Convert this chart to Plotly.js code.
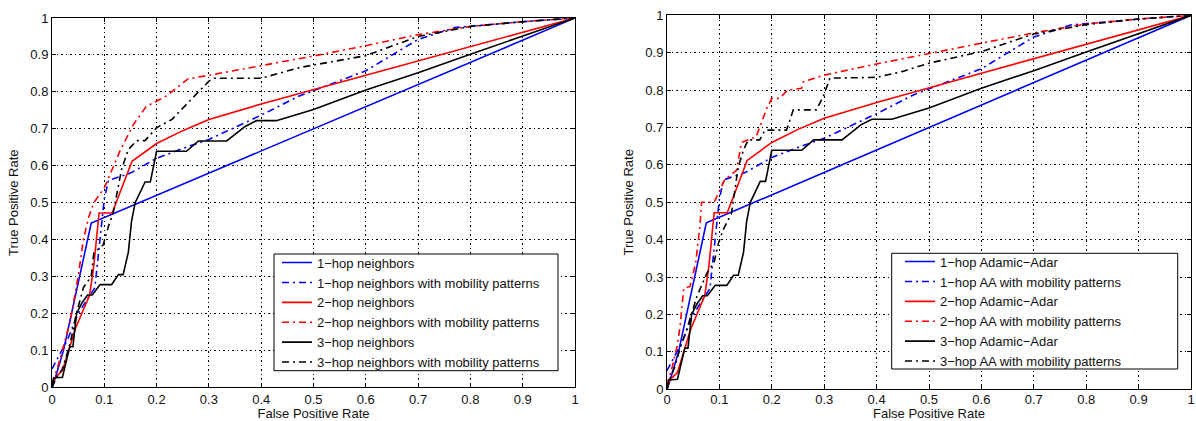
<!DOCTYPE html>
<html>
<head>
<meta charset="utf-8">
<script src="https://cdn.plot.ly/plotly-3.0.1.min.js"></script>
<style>
  html, body { margin: 0; padding: 0; background: #fff; }
  #roc { width: 1196px; height: 421px; }
</style>
</head>
<body>
<div id="roc"></div>
<script>
// ROC curves: false positive rate (x) vs true positive rate (y)

// 1-hop, solid (same in both panels)
const hop1_fpr = [0, 0.005, 0.022, 0.075, 1];
const hop1_tpr = [0, 0.02, 0.10, 0.445, 1];

// 1-hop with mobility patterns (same in both panels)
const hop1Mob_fpr = [0, 0.015, 0.03, 0.05, 0.07, 0.082, 0.088, 0.095, 0.1, 0.108, 0.15, 0.2, 0.26, 0.3, 0.4, 0.47, 0.6, 0.7, 0.77, 0.9, 1];
const hop1Mob_tpr = [0.05, 0.09, 0.13, 0.2, 0.245, 0.27, 0.35, 0.45, 0.51, 0.56, 0.58, 0.62, 0.652, 0.671, 0.737, 0.787, 0.857, 0.942, 0.974, 0.99, 1];

// 2-hop, solid (same in both panels)
const hop2_fpr = [0, 0.005, 0.02, 0.03, 0.045, 0.06, 0.072, 0.08, 0.09, 0.115, 0.153, 0.2, 0.25, 0.3, 0.4, 0.6, 0.8, 1];
const hop2_tpr = [0, 0.025, 0.045, 0.09, 0.16, 0.21, 0.25, 0.33, 0.472, 0.472, 0.612, 0.66, 0.695, 0.725, 0.767, 0.845, 0.922, 1];

// 3-hop, solid (same in both panels)
const hop3_fpr = [0, 0.003, 0.02, 0.034, 0.04, 0.047, 0.057, 0.068, 0.077, 0.092, 0.114, 0.127, 0.136, 0.146, 0.152, 0.159, 0.178, 0.188, 0.2, 0.257, 0.28, 0.334, 0.37, 0.391, 0.429, 0.5, 0.6, 0.7, 0.8, 1];
const hop3_tpr = [0, 0.025, 0.027, 0.11, 0.11, 0.2, 0.228, 0.25, 0.25, 0.278, 0.278, 0.305, 0.305, 0.366, 0.449, 0.5, 0.556, 0.556, 0.639, 0.639, 0.667, 0.667, 0.707, 0.722, 0.722, 0.752, 0.805, 0.852, 0.902, 1];

// Left panel: neighbor counts with mobility patterns
const hop2MobN_fpr = [0, 0.01, 0.02, 0.035, 0.05, 0.06, 0.07, 0.08, 0.1, 0.13, 0.155, 0.18, 0.22, 0.26, 0.3, 0.4, 0.5, 0.6, 0.7, 0.8, 0.9, 1];
const hop2MobN_tpr = [0.01, 0.05, 0.1, 0.18, 0.3, 0.4, 0.46, 0.5, 0.54, 0.64, 0.71, 0.76, 0.79, 0.835, 0.845, 0.87, 0.897, 0.925, 0.955, 0.977, 0.99, 1];

const hop3MobN_fpr = [0, 0.01, 0.02, 0.035, 0.045, 0.06, 0.075, 0.08, 0.098, 0.108, 0.117, 0.133, 0.146, 0.162, 0.178, 0.2, 0.229, 0.261, 0.3, 0.31, 0.4, 0.474, 0.6, 0.7, 0.8, 0.9, 1];
const hop3MobN_tpr = [0, 0.03, 0.05, 0.12, 0.19, 0.27, 0.3, 0.364, 0.386, 0.436, 0.472, 0.59, 0.644, 0.668, 0.668, 0.703, 0.725, 0.771, 0.829, 0.837, 0.837, 0.866, 0.898, 0.95, 0.977, 0.99, 1];

// Right panel: Adamic-Adar with mobility patterns
const hop2MobAA_fpr = [0, 0.01, 0.02, 0.025, 0.032, 0.044, 0.055, 0.063, 0.066, 0.09, 0.098, 0.11, 0.133, 0.142, 0.17, 0.19, 0.2, 0.215, 0.23, 0.257, 0.26, 0.3, 0.4, 0.5, 0.6, 0.7, 0.8, 0.9, 1];
const hop2MobAA_tpr = [0.01, 0.06, 0.12, 0.17, 0.27, 0.275, 0.34, 0.44, 0.5, 0.5, 0.524, 0.56, 0.586, 0.66, 0.675, 0.75, 0.778, 0.778, 0.8, 0.805, 0.822, 0.84, 0.87, 0.897, 0.925, 0.953, 0.977, 0.99, 1];

const hop3MobAA_fpr = [0, 0.006, 0.015, 0.025, 0.04, 0.057, 0.076, 0.09, 0.098, 0.107, 0.123, 0.136, 0.146, 0.155, 0.177, 0.187, 0.228, 0.241, 0.285, 0.298, 0.311, 0.4, 0.45, 0.5, 0.6, 0.7, 0.8, 0.9, 1];
const hop3MobAA_tpr = [0, 0.03, 0.06, 0.11, 0.17, 0.248, 0.31, 0.34, 0.39, 0.426, 0.47, 0.595, 0.64, 0.667, 0.667, 0.693, 0.693, 0.747, 0.747, 0.782, 0.832, 0.834, 0.85, 0.872, 0.903, 0.95, 0.975, 0.99, 1];

const namesLeft = [
  '1\u2212hop neighbors',
  '1\u2212hop neighbors with mobility patterns',
  '2\u2212hop neighbors',
  '2\u2212hop neighbors with mobility patterns',
  '3\u2212hop neighbors',
  '3\u2212hop neighbors with mobility patterns'
];
const namesRight = [
  '1\u2212hop Adamic\u2212Adar',
  '1\u2212hop AA with mobility patterns',
  '2\u2212hop Adamic\u2212Adar',
  '2\u2212hop AA with mobility patterns',
  '3\u2212hop Adamic\u2212Adar',
  '3\u2212hop AA with mobility patterns'
];

const BLUE = '#0000ff', RED = '#ff0000', BLACK = '#000000';
const DASHDOT = '7px,4px,2px,4px';
const LW = 1.6;

function curve(x, y, name, color, dashed, xa, ya, leg) {
  return {
    x: x, y: y, name: name, type: 'scatter', mode: 'lines',
    line: { color: color, width: LW, dash: dashed ? DASHDOT : 'solid' },
    xaxis: xa, yaxis: ya, legend: leg, hoverinfo: 'skip'
  };
}

const leftSeries = [
  [hop1_fpr, hop1_tpr, BLUE, false],
  [hop1Mob_fpr, hop1Mob_tpr, BLUE, true],
  [hop2_fpr, hop2_tpr, RED, false],
  [hop2MobN_fpr, hop2MobN_tpr, RED, true],
  [hop3_fpr, hop3_tpr, BLACK, false],
  [hop3MobN_fpr, hop3MobN_tpr, BLACK, true]
];
const rightSeries = [
  [hop1_fpr, hop1_tpr, BLUE, false],
  [hop1Mob_fpr, hop1Mob_tpr, BLUE, true],
  [hop2_fpr, hop2_tpr, RED, false],
  [hop2MobAA_fpr, hop2MobAA_tpr, RED, true],
  [hop3_fpr, hop3_tpr, BLACK, false],
  [hop3MobAA_fpr, hop3MobAA_tpr, BLACK, true]
];

const traces = [];
leftSeries.forEach((s, i) => traces.push(curve(s[0], s[1], namesLeft[i], s[2], s[3], 'x', 'y', 'legend')));
rightSeries.forEach((s, i) => traces.push(curve(s[0], s[1], namesRight[i], s[2], s[3], 'x2', 'y2', 'legend2')));

const W = 1196, H = 421;
const FONT = 'Liberation Sans, Arial, Helvetica, sans-serif';

function axis(domain, title, anchor, labelShift) {
  return {
    domain: domain, anchor: anchor, range: [0, 1], tick0: 0, dtick: 0.1,
    showgrid: true, gridcolor: '#000', gridwidth: 1, griddash: '1.5px,3px',
    zeroline: false, showline: true, linecolor: '#000', linewidth: 1, mirror: 'ticks',
    ticks: 'inside', ticklen: 4, tickcolor: '#000', tickwidth: 1,
    ticklabelstandoff: labelShift || 0,
    tickfont: { family: FONT, size: 13, color: '#111' },
    title: { text: title, font: { family: FONT, size: 13, color: '#111' }, standoff: 8 },
    fixedrange: true
  };
}

// Legend entries sit inside a framed white panel (drawn as a paper shape)
function legendBox(xPx, yPx) {
  return {
    x: xPx / W, y: (H - yPx) / H, xanchor: 'left', yanchor: 'top',
    bgcolor: 'rgba(0,0,0,0)', borderwidth: 0,
    font: { family: FONT, size: 13, color: '#111' }, tracegroupgap: 0
  };
}
function legendFrame(x0, y0, x1, y1) {
  return {
    type: 'rect', xref: 'paper', yref: 'paper', layer: 'above',
    x0: x0 / W, x1: x1 / W, y0: (H - y1) / H, y1: (H - y0) / H,
    fillcolor: '#fff', line: { color: '#000', width: 1 }
  };
}

const layout = {
  width: W, height: H, autosize: false,
  margin: { l: 0, r: 0, t: 0, b: 0 },
  paper_bgcolor: '#fff', plot_bgcolor: '#fff',
  showlegend: true,
  xaxis: axis([52 / W, 575 / W], 'False Positive Rate', 'y'),
  yaxis: axis([(H - 387.3) / H, (H - 18) / H], 'True Positive Rate', 'x'),
  xaxis2: axis([667 / W, 1191 / W], 'False Positive Rate', 'y2', -2),
  yaxis2: axis([(H - 389.3) / H, (H - 15.3) / H], 'True Positive Rate', 'x2'),
  legend: legendBox(277, 247.6),
  legend2: legendBox(900, 246.6),
  shapes: [
    legendFrame(274, 254, 558, 370.7),
    legendFrame(891.7, 253.3, 1177.7, 369)
  ]
};

Plotly.newPlot('roc', traces, layout, { displayModeBar: false, staticPlot: true });
</script>
</body>
</html>
